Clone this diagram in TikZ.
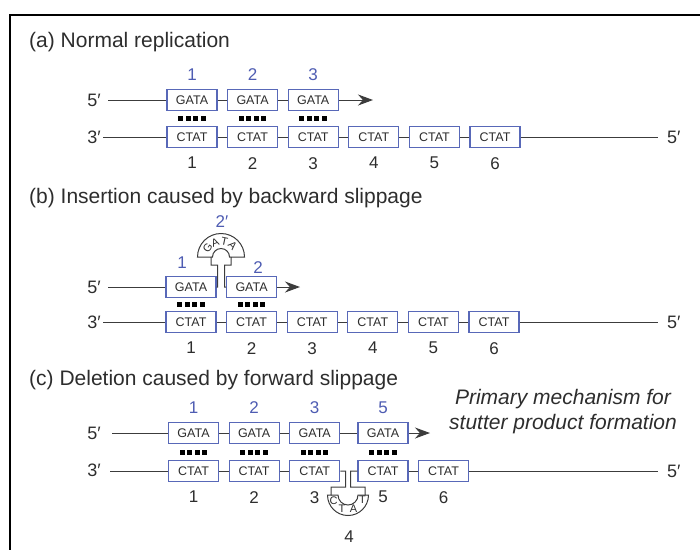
\documentclass[tikz,border=0pt]{standalone}
\usepackage{fontspec}
\setmainfont{Liberation Sans}
\usepackage{xcolor}
\usetikzlibrary{arrows.meta,positioning,calc}

\definecolor{repblue}{RGB}{88,104,184}
\definecolor{numblue}{RGB}{78,92,178}
\definecolor{strandgray}{RGB}{60,60,60}
\definecolor{textgray}{RGB}{45,45,45}

\begin{document}
\begin{tikzpicture}[
    x=1pt, y=-1pt,
    node distance=9.5pt,
    rep/.style={rectangle, draw=repblue, line width=1.1pt, minimum width=50pt, minimum height=21pt, inner sep=0pt, text=textgray, font=\fontsize{12.5}{12.5}\selectfont},
    strand/.style={draw=strandgray, line width=1pt},
    title/.style={anchor=west, inner sep=0pt, text=textgray, font=\fontsize{21}{21}\selectfont},
    bnum/.style={inner sep=0pt, text=numblue, font=\fontsize{17}{17}\selectfont},
    knum/.style={inner sep=0pt, text=textgray, font=\fontsize{17}{17}\selectfont},
    endl/.style={inner sep=0pt, text=textgray, font=\fontsize{18}{18}\selectfont},
    tip/.style={-{Stealth[length=15pt,width=11pt]}},
    loopch/.style={inner sep=0pt, text=textgray, font=\fontsize{11}{11}\selectfont},
    bp/.pic={\foreach \k in {0,...,3} \fill (-13.75+\k*7.5,-2.5) rectangle ++(5,5);}
]
\useasboundingbox (0,0) rectangle (700,550);

% Frame
\draw[line width=2.5pt] (700,15) -- (10,15) -- (10,550);

% (a) Normal replication
\node[title] (ta) at (29,42) {(a) Normal replication};
\node[rep] (ga1) at (192,100) {GATA};
\node[rep, right=of ga1] (ga2) {GATA};
\node[rep, right=of ga2] (ga3) {GATA};
\node[rep] (ca1) at (192,137) {CTAT};
\node[rep, right=of ca1] (ca2) {CTAT};
\node[rep, right=of ca2] (ca3) {CTAT};
\node[rep, right=of ca3] (ca4) {CTAT};
\node[rep, right=of ca4] (ca5) {CTAT};
\node[rep, right=of ca5] (ca6) {CTAT};
\foreach \n in {1,2,3} \node[bnum, above=8pt of ga\n] (nag\n) {\n};
\foreach \n in {1,...,6} \node[knum, below=9pt of ca\n] (nac\n) {\n};
\foreach \n in {1,2,3} \pic at ($(ga\n.south)!0.5!(ca\n.north)$) {bp};

\node[endl, anchor=east] (a5l) at (101,100) {5′};
\node[endl, anchor=east] (a3l) at (101,137) {3′};
\node[endl, anchor=west] (a5r) at (667,137) {5′};
\coordinate (a5s) at (108,100);
\coordinate (a3s) at (103,137);
\coordinate (a5e) at (658,137);
\coordinate (aar) at (373,100);
\draw[strand] (a5s) -- (ga1);
\draw[strand] (a3s) -- (ca1);
\draw[strand] (ca6) -- (a5e);
\foreach \i/\j in {1/2,2/3} \draw[strand] (ga\i) -- (ga\j);
\foreach \i/\j in {1/2,2/3,3/4,4/5,5/6} \draw[strand] (ca\i) -- (ca\j);
\draw[strand, tip] (ga3) -- (aar);

% (b) Insertion caused by backward slippage
\node[title] (tb) at (29,198) {(b) Insertion caused by backward slippage};
\node[rep] (gb1) at (191,287) {GATA};
\node[rep, right=of gb1] (gb2) {GATA};
\node[rep] (cb1) at (191,322) {CTAT};
\node[rep, right=of cb1] (cb2) {CTAT};
\node[rep, right=of cb2] (cb3) {CTAT};
\node[rep, right=of cb3] (cb4) {CTAT};
\node[rep, right=of cb4] (cb5) {CTAT};
\node[rep, right=of cb5] (cb6) {CTAT};
\node[bnum] (nbg1) at (182,263) {1};
\node[bnum] (nbg2) at (258,268) {2};
\node[bnum] (nbg2p) at (222,222) {2′};
\foreach \n in {1,...,6} \node[knum, below=9pt of cb\n] (nbc\n) {\n};
\foreach \n in {1,2} \pic at ($(gb\n.south)!0.5!(cb\n.north)$) {bp};

\node[endl, anchor=east] (b5l) at (101,287) {5′};
\node[endl, anchor=east] (b3l) at (101,322) {3′};
\node[endl, anchor=west] (b5r) at (667,322) {5′};
\coordinate (b5s) at (108,287);
\coordinate (b3s) at (103,322);
\coordinate (b5e) at (658,322);
\coordinate (bar) at (300,287);
\draw[strand] (b5s) -- (gb1);
\draw[strand] (b3s) -- (cb1);
\draw[strand] (cb6) -- (b5e);
\foreach \i/\j in {1/2,2/3,3/4,4/5,5/6} \draw[strand] (cb\i) -- (cb\j);
\draw[strand, tip] (gb2) -- (bar);

% looped-out repeat
\begin{scope}[shift={(221,257)}]
\draw[strand] (gb1.east) -- (-3.5,30) -- (-3.5,8) -- (-10,8) -- (-10,0) -- (-23.5,0)
    arc[start angle=180, end angle=360, radius=23.5] -- (10,0) -- (10,8) -- (3.5,8) -- (3.5,30) -- (gb2.west);
\draw[strand] (-10,0) -- (-8.5,0) arc[start angle=180, end angle=360, radius=8.5] -- (10,0);
\foreach \ch/\ang in {G/146,A/112,T/78,A/43}
    \node[loopch, rotate=\ang-90] (lb\ang) at (-\ang:16) {\ch};
\end{scope}

% (c) Deletion caused by forward slippage
\node[title] (tc) at (29,380) {(c) Deletion caused by forward slippage};
\node[rep] (gc1) at (193.5,433) {GATA};
\node[rep, right=of gc1] (gc2) {GATA};
\node[rep, right=of gc2] (gc3) {GATA};
\node[rep] (gc5) at (383,433) {GATA};
\node[rep] (cc1) at (193.5,471) {CTAT};
\node[rep, right=of cc1] (cc2) {CTAT};
\node[rep, right=of cc2] (cc3) {CTAT};
\node[rep] (cc5) at (383,471) {CTAT};
\node[rep, right=of cc5] (cc6) {CTAT};
\foreach \n in {1,2,3,5} \node[bnum, above=8pt of gc\n] (ncg\n) {\n};
\foreach \n in {1,2,3,5,6} \node[knum, below=9pt of cc\n] (ncc\n) {\n};
\foreach \n in {1,2,3,5} \pic at ($(gc\n.south)!0.5!(cc\n.north)$) {bp};

\node[endl, anchor=east] (c5l) at (101,433) {5′};
\node[endl, anchor=east] (c3l) at (101,470) {3′};
\node[endl, anchor=west] (c5r) at (667,471) {5′};
\coordinate (c5s) at (112,433);
\coordinate (c3s) at (110,471);
\coordinate (c5e) at (658,471);
\coordinate (car) at (430,433);
\draw[strand] (c5s) -- (gc1);
\draw[strand] (c3s) -- (cc1);
\draw[strand] (cc6) -- (c5e);
\foreach \i/\j in {1/2,2/3,3/5} \draw[strand] (gc\i) -- (gc\j);
\foreach \i/\j in {1/2,2/3,5/6} \draw[strand] (cc\i) -- (cc\j);
\draw[strand, tip] (gc5) -- (car);

% looped-out repeat on the template
\begin{scope}[shift={(348,495)}]
\draw[strand] (cc3.east) -- (-2.5,-24) -- (-2.5,-8) -- (-17,-8) -- (-17,0) -- (-20.5,0)
    arc[start angle=180, end angle=0, radius=20.5] -- (17,0) -- (17,-8) -- (2.5,-8) -- (2.5,-24) -- (cc5.west);
\draw[strand] (-17,0) -- (-10,0) arc[start angle=180, end angle=0, radius=10] -- (17,0);
\foreach \ch/\px/\py [count=\c] in {C/-14.5/6,T/-6/14,A/5.5/14,T/14.5/5}
    \node[loopch] (lc\c) at (\px,\py) {\ch};
\node[knum] (ncc4) at (1,42) {4};
\end{scope}

\node[align=center, inner sep=0pt, text=textgray, font=\fontsize{21}{25}\selectfont\itshape] (pm) at (563,412) {Primary mechanism for\\stutter product formation};
\end{tikzpicture}
\end{document}
